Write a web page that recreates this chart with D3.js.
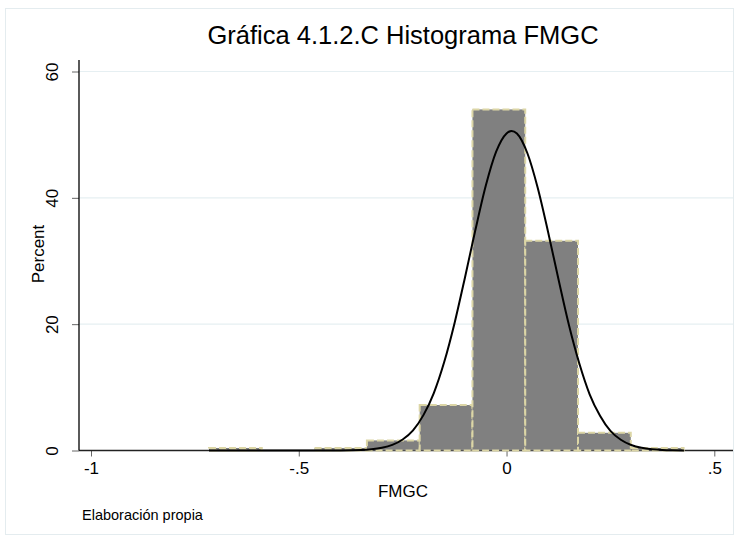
<!DOCTYPE html>
<html>
<head>
<meta charset="utf-8">
<script src="https://cdn.jsdelivr.net/npm/d3@7"></script>
<style>
  body { margin: 0; background: #fff; }
  svg { display: block; font-family: "Liberation Sans", Arial, sans-serif; }
</style>
</head>
<body>
<svg id="chart" width="735" height="539"></svg>
<script>
// histograma FMGC con curva normal superpuesta
const binEdges = [-0.716, -0.589, -0.462, -0.336, -0.209, -0.082, 0.045, 0.172, 0.299, 0.426];
const binPercent = [0.4, 0, 0.4, 1.6, 7.2, 54, 33.2, 2.8, 0.4];

const xTicks = [-1, -0.5, 0, 0.5];
const xTickLabels = ["-1", "-.5", "0", ".5"];
const yTicks = [0, 20, 40, 60];

// curva normal (x, porcentaje)
const curveX = [-0.716, -0.6, -0.5, -0.45, -0.4, -0.35, -0.325, -0.3, -0.275, -0.25, -0.225, -0.2, -0.175,
  -0.15, -0.125, -0.1, -0.075, -0.05, -0.025, 0, 0.012, 0.025, 0.05, 0.075, 0.1, 0.125, 0.15, 0.175,
  0.2, 0.225, 0.25, 0.275, 0.3, 0.325, 0.35, 0.375, 0.4, 0.427];
const curvePct = [0, 0, 0, 0, 0.01, 0.08, 0.19, 0.43, 0.89, 1.75, 3.2, 5.6, 9.1,
  14.0, 20.2, 27.4, 34.9, 41.9, 47.3, 50.2, 50.6, 50.2, 47.1, 41.6, 34.6, 27.1, 19.9, 13.8,
  8.9, 5.5, 3.1, 1.7, 0.87, 0.42, 0.19, 0.08, 0.03, 0.01];

const svg = d3.select("#chart");
const plot = { left: 79, right: 733, top: 60, bottom: 450.5 };

const x = d3.scaleLinear().domain([-1, 0.5]).range([91, 714.3]);
const y = d3.scaleLinear().domain([0, 60]).range([450.5, 71.5]);

// marco exterior
svg.append("rect")
  .attr("x", 5.5).attr("y", 8.5)
  .attr("width", 728).attr("height", 526)
  .attr("fill", "none")
  .attr("stroke", "#e4ecef")
  .attr("stroke-width", 1);

// lineas de rejilla
svg.append("g")
  .selectAll("line")
  .data(yTicks.filter(d => d > 0))
  .enter().append("line")
  .attr("x1", plot.left).attr("x2", plot.right)
  .attr("y1", d => y(d)).attr("y2", d => y(d))
  .attr("stroke", "#e6eff2")
  .attr("stroke-width", 1.2);

// eje x
const gx = svg.append("g")
  .attr("transform", `translate(0,${plot.bottom})`)
  .call(d3.axisBottom(x).tickValues(xTicks).tickFormat((d, i) => xTickLabels[i]).tickSize(6).tickPadding(5));
gx.select(".domain").remove();
gx.selectAll(".tick line").attr("stroke", "#666");
gx.selectAll(".tick text")
  .attr("fill", "#000")
  .style("font-size", "17px")
  .style("font-family", "'Liberation Sans', Arial, sans-serif");
svg.append("line")
  .attr("x1", plot.left).attr("x2", plot.right)
  .attr("y1", plot.bottom).attr("y2", plot.bottom)
  .attr("stroke", "#222").attr("stroke-width", 1.3);

// eje y
const gy = svg.append("g")
  .attr("transform", `translate(${plot.left},0)`)
  .call(d3.axisLeft(y).tickValues(yTicks).tickSize(7).tickFormat(d3.format("d")));
gy.select(".domain").remove();
gy.selectAll(".tick line").attr("stroke", "#666");
gy.selectAll(".tick text")
  .attr("x", null).attr("dy", null)
  .attr("transform", "translate(-21,0) rotate(-90)")
  .attr("text-anchor", "middle")
  .attr("fill", "#000")
  .style("font-size", "17px")
  .style("font-family", "'Liberation Sans', Arial, sans-serif");
svg.append("line")
  .attr("x1", plot.left).attr("x2", plot.left)
  .attr("y1", plot.top).attr("y2", plot.bottom)
  .attr("stroke", "#000").attr("stroke-width", 1.3);

// barras
const bins = binPercent.map((p, i) => ({ x0: binEdges[i], x1: binEdges[i + 1], p }))
  .filter(d => d.p > 0);

svg.append("g")
  .selectAll("rect")
  .data(bins)
  .enter().append("rect")
  .attr("x", d => x(d.x0))
  .attr("y", d => y(d.p))
  .attr("width", d => x(d.x1) - x(d.x0))
  .attr("height", d => y(0) - y(d.p))
  .attr("fill", "#808080")
  .attr("stroke", "#dcd6a6")
  .attr("stroke-width", 2)
  .attr("stroke-dasharray", "7,3");

// curva normal
const line = d3.line()
  .x(d => x(d))
  .y((d, i) => y(curvePct[i]))
  .curve(d3.curveMonotoneX);

svg.append("path")
  .datum(curveX)
  .attr("d", line)
  .attr("fill", "none")
  .attr("stroke", "#000")
  .attr("stroke-width", 2);

// textos
svg.append("text")
  .attr("x", 403).attr("y", 44)
  .attr("text-anchor", "middle")
  .style("font-size", "25.5px")
  .text("Gráfica 4.1.2.C Histograma FMGC");

svg.append("text")
  .attr("transform", "translate(44,254) rotate(-90)")
  .attr("text-anchor", "middle")
  .style("font-size", "17px")
  .text("Percent");

svg.append("text")
  .attr("x", 403).attr("y", 497)
  .attr("text-anchor", "middle")
  .style("font-size", "17px")
  .text("FMGC");

svg.append("text")
  .attr("x", 82).attr("y", 520)
  .style("font-size", "14.5px")
  .text("Elaboración propia");
</script>
</body>
</html>
